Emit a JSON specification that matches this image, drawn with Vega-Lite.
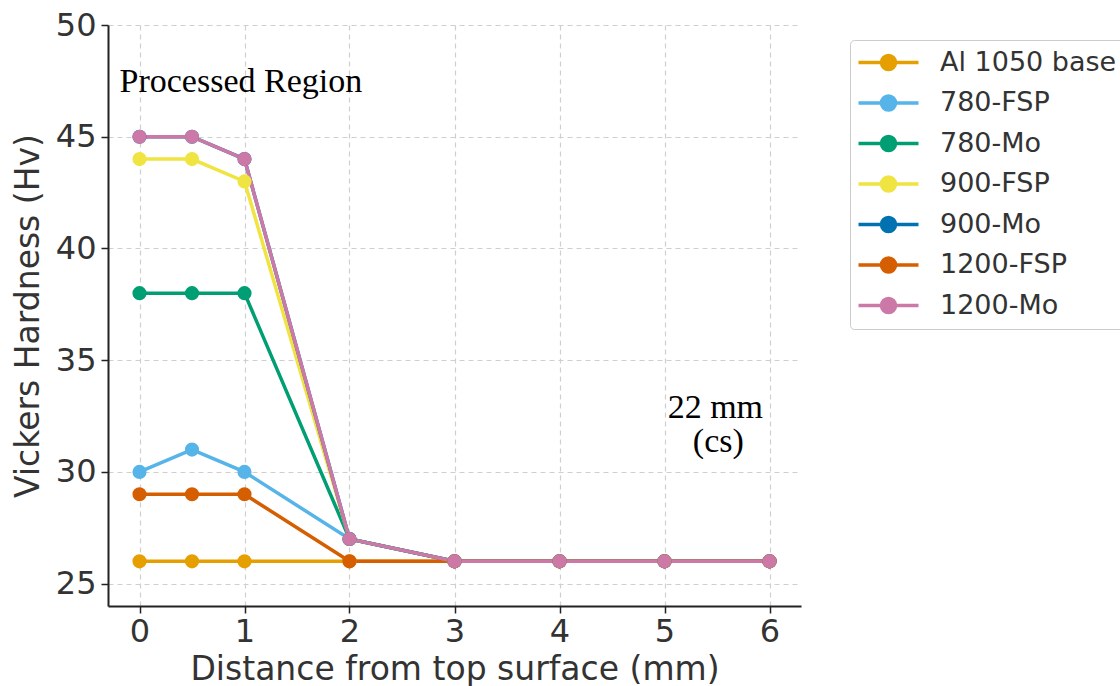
{
  "$schema": "https://vega.github.io/schema/vega-lite/v6.json",
  "width": 693,
  "height": 581,
  "autosize": "none",
  "padding": {"left": 108, "top": 25, "right": 319, "bottom": 80},
  "background": "white",
  "config": {
    "view": {"stroke": null},
    "font": "DejaVu Sans",
    "axis": {
      "labelFont": "DejaVu Sans",
      "titleFont": "DejaVu Sans",
      "labelFontSize": 32,
      "titleFontSize": 33,
      "labelColor": "#333333",
      "titleColor": "#333333",
      "titleFontWeight": "normal",
      "domainColor": "#222222",
      "domainWidth": 2,
      "tickColor": "#222222",
      "tickWidth": 1.5,
      "tickSize": 7,
      "gridColor": "#cfcfcf",
      "gridWidth": 1.2,
      "gridDash": [5, 4]
    }
  },
  "datasets": {
    "series": [
      {"series": "Al 1050 base", "x": 0, "hv": 26},
      {"series": "Al 1050 base", "x": 0.5, "hv": 26},
      {"series": "Al 1050 base", "x": 1, "hv": 26},
      {"series": "Al 1050 base", "x": 2, "hv": 26},
      {"series": "Al 1050 base", "x": 3, "hv": 26},
      {"series": "Al 1050 base", "x": 4, "hv": 26},
      {"series": "Al 1050 base", "x": 5, "hv": 26},
      {"series": "Al 1050 base", "x": 6, "hv": 26},
      {"series": "780-FSP", "x": 0, "hv": 30},
      {"series": "780-FSP", "x": 0.5, "hv": 31},
      {"series": "780-FSP", "x": 1, "hv": 30},
      {"series": "780-FSP", "x": 2, "hv": 27},
      {"series": "780-FSP", "x": 3, "hv": 26},
      {"series": "780-FSP", "x": 4, "hv": 26},
      {"series": "780-FSP", "x": 5, "hv": 26},
      {"series": "780-FSP", "x": 6, "hv": 26},
      {"series": "780-Mo", "x": 0, "hv": 38},
      {"series": "780-Mo", "x": 0.5, "hv": 38},
      {"series": "780-Mo", "x": 1, "hv": 38},
      {"series": "780-Mo", "x": 2, "hv": 27},
      {"series": "780-Mo", "x": 3, "hv": 26},
      {"series": "780-Mo", "x": 4, "hv": 26},
      {"series": "780-Mo", "x": 5, "hv": 26},
      {"series": "780-Mo", "x": 6, "hv": 26},
      {"series": "900-FSP", "x": 0, "hv": 44},
      {"series": "900-FSP", "x": 0.5, "hv": 44},
      {"series": "900-FSP", "x": 1, "hv": 43},
      {"series": "900-FSP", "x": 2, "hv": 27},
      {"series": "900-FSP", "x": 3, "hv": 26},
      {"series": "900-FSP", "x": 4, "hv": 26},
      {"series": "900-FSP", "x": 5, "hv": 26},
      {"series": "900-FSP", "x": 6, "hv": 26},
      {"series": "900-Mo", "x": 0, "hv": 45},
      {"series": "900-Mo", "x": 0.5, "hv": 45},
      {"series": "900-Mo", "x": 1, "hv": 44},
      {"series": "900-Mo", "x": 2, "hv": 27},
      {"series": "900-Mo", "x": 3, "hv": 26},
      {"series": "900-Mo", "x": 4, "hv": 26},
      {"series": "900-Mo", "x": 5, "hv": 26},
      {"series": "900-Mo", "x": 6, "hv": 26},
      {"series": "1200-FSP", "x": 0, "hv": 29},
      {"series": "1200-FSP", "x": 0.5, "hv": 29},
      {"series": "1200-FSP", "x": 1, "hv": 29},
      {"series": "1200-FSP", "x": 2, "hv": 26},
      {"series": "1200-FSP", "x": 3, "hv": 26},
      {"series": "1200-FSP", "x": 4, "hv": 26},
      {"series": "1200-FSP", "x": 5, "hv": 26},
      {"series": "1200-FSP", "x": 6, "hv": 26},
      {"series": "1200-Mo", "x": 0, "hv": 45},
      {"series": "1200-Mo", "x": 0.5, "hv": 45},
      {"series": "1200-Mo", "x": 1, "hv": 44},
      {"series": "1200-Mo", "x": 2, "hv": 27},
      {"series": "1200-Mo", "x": 3, "hv": 26},
      {"series": "1200-Mo", "x": 4, "hv": 26},
      {"series": "1200-Mo", "x": 5, "hv": 26},
      {"series": "1200-Mo", "x": 6, "hv": 26}
    ],
    "notes": [
      {"x": -0.19, "hv": 47.0, "label": "Processed Region"},
      {"x": 5.03, "hv": 32.42, "label": "22 mm"},
      {"x": 5.27, "hv": 30.9, "label": "(cs)"}
    ]
  },
  "layer": [
    {
      "data": {"name": "series"},
      "mark": {"type": "line", "strokeWidth": 3.5, "point": {"filled": true, "size": 200, "opacity": 1}},
      "encoding": {
        "x": {
          "field": "x", "type": "quantitative",
          "scale": {"domain": [-0.3, 6.3], "nice": false, "zero": false},
          "axis": {"values": [0, 1, 2, 3, 4, 5, 6], "format": "d", "title": "Distance from top surface (mm)", "labelPadding": 3, "titlePadding": 6, "grid": true}
        },
        "y": {
          "field": "hv", "type": "quantitative",
          "scale": {"domain": [24, 50], "nice": false, "zero": false},
          "axis": {"values": [25, 30, 35, 40, 45, 50], "title": "Vickers Hardness (Hv)", "labelPadding": 5, "titlePadding": 10, "grid": true}
        },
        "color": {
          "field": "series", "type": "nominal",
          "scale": {
            "domain": ["Al 1050 base", "780-FSP", "780-Mo", "900-FSP", "900-Mo", "1200-FSP", "1200-Mo"],
            "range": ["#E69F00", "#56B4E9", "#009E73", "#F0E442", "#0072B2", "#D55E00", "#CC79A7"]
          },
          "legend": {
            "orient": "none",
            "legendX": 742,
            "legendY": 15,
            "title": null,
            "symbolType": "M-4.2857,0H4.2857M1,0A1,1,0,1,1,-1,0A1,1,0,1,1,1,0Z",
            "symbolSize": 196,
            "symbolStrokeWidth": 3.5,
            "symbolOffset": 16,
            "labelOffset": 38,
            "labelLimit": 400,
            "labelFont": "DejaVu Sans",
            "labelFontSize": 27,
            "labelColor": "#333333",
            "rowPadding": 11.5,
            "padding": 9,
            "strokeColor": "#cccccc",
            "fillColor": "white",
            "cornerRadius": 4,
            "encode": {"symbols": {"update": {"fill": {"scale": "color", "field": "value"}, "fillOpacity": {"value": 1}}}}
          }
        }
      }
    },
    {
      "data": {"name": "notes"},
      "mark": {"type": "text", "font": "Liberation Serif", "fontSize": 34, "baseline": "alphabetic", "align": "left", "color": "black"},
      "encoding": {
        "x": {"field": "x", "type": "quantitative"},
        "y": {"field": "hv", "type": "quantitative"},
        "text": {"field": "label"}
      }
    }
  ]
}
